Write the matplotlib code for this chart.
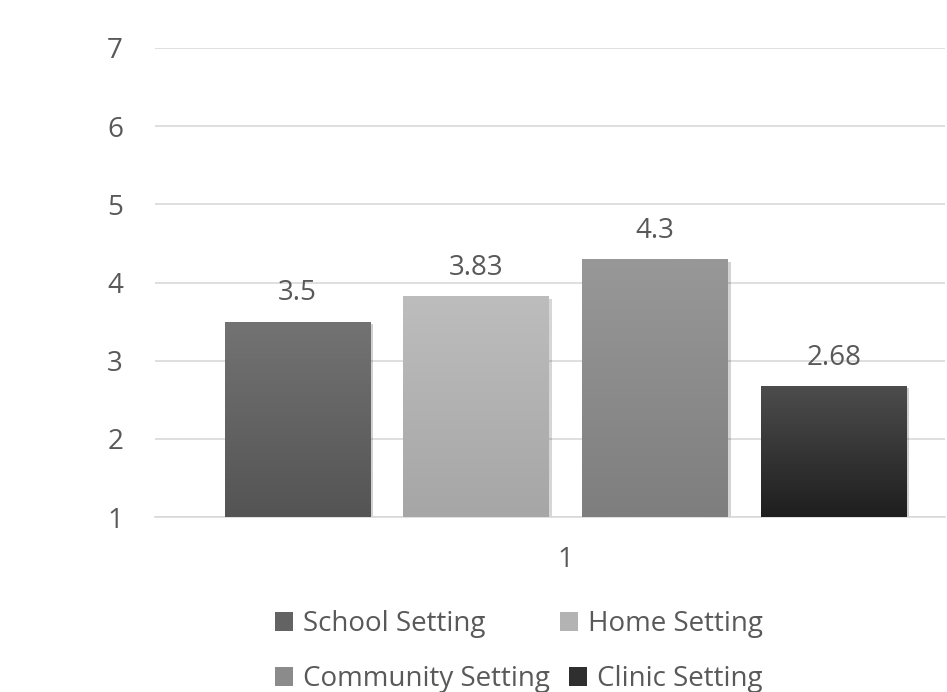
import matplotlib.pyplot as plt
import matplotlib.patheffects as pe
import numpy as np
from matplotlib.colors import LinearSegmentedColormap
from matplotlib.patches import Patch

plt.rcParams['font.family'] = ['Open Sans', 'DejaVu Sans']

settings = ['School Setting', 'Home Setting', 'Community Setting', 'Clinic Setting']
scores = [3.5, 3.83, 4.3, 2.68]
category = '1'
# (top colour, bottom colour) of each bar's gradient
top_colors = ['#737373', '#bdbdbd', '#989898', '#4d4d4d']
bottom_colors = ['#545454', '#a6a6a6', '#7e7e7e', '#1e1e1e']
legend_colors = ['#636363', '#b3b3b3', '#8b8b8b', '#2f2f2f']
yticks = [1, 2, 3, 4, 5, 6, 7]

text_color = '#595959'
grid_color = '#d9d9d9'
fs = 20

fig = plt.figure(figsize=(9.47, 6.92), dpi=100)
ax = fig.add_axes([155 / 947, 1 - 517 / 692, (945 - 155) / 947, (517 - 48) / 692])

x = np.arange(len(scores))
width = 0.816
bars = ax.bar(x, [s - 1 for s in scores], bottom=1, width=width,
              color=bottom_colors, zorder=2,
              path_effects=[pe.SimplePatchShadow(offset=(2, -2), alpha=0.2), pe.Normal()])

grad = np.linspace(1, 0, 256).reshape(-1, 1)
for b, c_top, c_bot in zip(bars, top_colors, bottom_colors):
    cmap = LinearSegmentedColormap.from_list('g', [c_bot, c_top])
    x0, y0 = b.get_x(), b.get_y()
    im = ax.imshow(grad, cmap=cmap, aspect='auto', zorder=3,
                   extent=(x0, x0 + b.get_width(), y0, y0 + b.get_height()))
    im.set_clip_path(b)

for xi, s in zip(x, scores):
    ax.text(xi, s + 0.36, f'{s:g}', ha='center', va='center',
            fontsize=fs, color=text_color, zorder=4)

ax.set_xlim(-0.797, 3.623)
ax.set_ylim(1, 7)
ax.set_yticks(yticks)
ax.set_xticks([1.5])
ax.set_xticklabels([category])
ax.tick_params(axis='both', length=0, labelsize=fs, labelcolor=text_color)
ax.tick_params(axis='y', pad=23)
ax.tick_params(axis='x', pad=21)
ax.yaxis.grid(True, color=grid_color, linewidth=1.2, zorder=0)
ax.set_axisbelow(True)
for sp in ['top', 'right', 'left']:
    ax.spines[sp].set_visible(False)
ax.spines['bottom'].set_color(grid_color)
ax.spines['bottom'].set_linewidth(1.2)

# legend entries flow row by row, as in the source
legend_pos = [(275, 624), (560, 624), (275, 679), (569, 679)]
for name, c, (px, py) in zip(settings, legend_colors, legend_pos):
    fig.legend([Patch(facecolor=c)], [name], loc='center left',
               bbox_to_anchor=(px / 947, 1 - py / 692), frameon=False,
               fontsize=fs, labelcolor=text_color, borderpad=0, borderaxespad=0,
               handlelength=0.65, handleheight=0.65, handletextpad=0.35)

fig.savefig('out.png', dpi=100)
